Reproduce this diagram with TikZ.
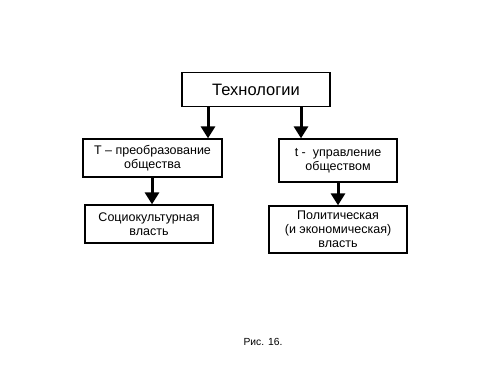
\documentclass[tikz,border=0pt]{standalone}
\usepackage{fontspec}
\setmainfont{Liberation Sans}
\usetikzlibrary{arrows.meta}
\begin{document}
\begin{tikzpicture}[x=1pt,y=-1pt,
  box/.style={draw=black,line width=1.3pt,fill=white,inner sep=0pt,align=center,font=\fontsize{12.5}{14}\selectfont},
  arr/.style={line width=3pt,-{Triangle[width=14pt,length=12pt]}}]
\useasboundingbox[fill=white] (0,0) rectangle (500,375);
\node[box,minimum width=148pt,minimum height=34pt,font=\fontsize{16.5}{19}\selectfont] (top) at (256,89.5) {Технологии};
\node[box,minimum width=139pt,minimum height=38pt] (lm) at (152.5,158) {Т – преобразование\\общества};
\node[box,minimum width=128pt,minimum height=38pt] (lb) at (149,224) {Социокультурная\\власть};
\node[box,minimum width=118pt,minimum height=43pt] (rm) at (338,160.5) {t -\ \ управление\\обществом};
\node[box,minimum width=138pt,minimum height=47pt] (rb) at (338,229.5) {Политическая\\(и экономическая)\\власть};
\node[font=\fontsize{10.3}{12}\selectfont] (cap) at (263,342) {Рис. 16.};
\draw[arr] (top.south -| 208,0) -- (lm.north -| 208,0);
\draw[arr] (top.south -| 301,0) -- (rm.north -| 301,0);
\draw[arr] (lm.south -| 152,0) -- (lb.north -| 152,0);
\draw[arr] (rm.south) -- (rb.north);
\end{tikzpicture}
\end{document}
